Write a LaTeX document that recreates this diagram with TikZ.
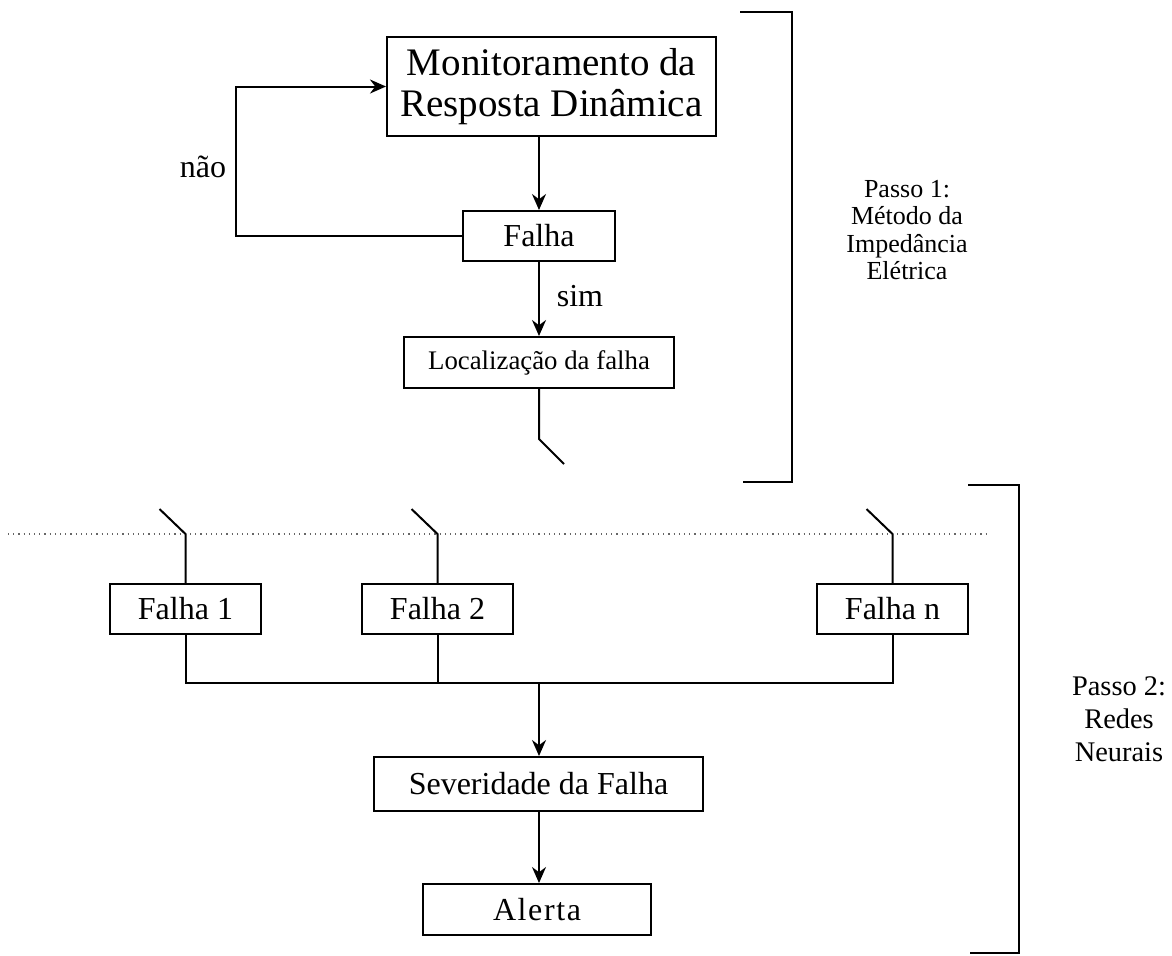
\documentclass[tikz,border=0pt]{standalone}
\usepackage{fontspec}
\setmainfont{Liberation Serif}
\usetikzlibrary{arrows.meta}
\begin{document}
\begin{tikzpicture}[x=0.5pt,y=-0.5pt,
  line width=1pt,
  box/.style={draw,inner sep=0pt,align=center,font=\fontsize{16}{18.5}\selectfont},
  lbl/.style={inner sep=0pt,align=center,font=\fontsize{16}{18.5}\selectfont},
  side/.style={inner sep=0pt,align=center,font=\fontsize{14.2}{16.5}\selectfont},
  arr/.style={-{Stealth[length=8pt,width=7pt]}},
  sepline/.style={dotted,line width=0.6pt,gray!80!black}]
\useasboundingbox (0,0) rectangle (1172,955);
% boxes
\node[box,minimum width=164.5pt,minimum height=49.5pt,font=\fontsize{19.5}{20.5}\selectfont] (mon) at (551.5,86.5) {Monitoramento da\\Resposta Dinâmica};
\node[box,minimum width=76pt,minimum height=25pt] (falha) at (539,236) {Falha};
\node[box,minimum width=135pt,minimum height=25.5pt,font=\fontsize{13.4}{15}\selectfont] (loc) at (539,362.5) {Localização da falha};
\node[box,minimum width=75.5pt,minimum height=25pt] (f1) at (185.5,609) {Falha 1};
\node[box,minimum width=75.5pt,minimum height=25pt] (f2) at (437.5,609) {Falha 2};
\node[box,minimum width=75.5pt,minimum height=25pt] (fn) at (892.5,609) {Falha n};
\node[box,minimum width=164.5pt,minimum height=27pt] (sev) at (538.5,784) {Severidade da Falha};
\node[box,minimum width=114pt,minimum height=25.5pt,font=\fontsize{16}{18.5}\selectfont\addfontfeature{LetterSpace=5}] (ale) at (537,909.5) {Alerta};
% labels
\node[lbl] (nao) at (203,167) {não};
\node[lbl] (sim) at (580,296) {sim};
\node[side,font=\fontsize{13}{13.6}\selectfont] (p1) at (907,230) {Passo 1:\\Método da\\Impedância\\Elétrica};
\node[side] (p2) at (1119,719) {Passo 2:\\Redes\\Neurais};
% coordinates
\coordinate (loopc) at (236,236);
\coordinate (sw0a) at (539,439);
\coordinate (sw0b) at (564,464);
\coordinate (s1a) at (185.5,534);
\coordinate (s1b) at (159.5,509);
\coordinate (s2a) at (437.5,534);
\coordinate (s2b) at (411.5,509);
\coordinate (sna) at (892.5,534);
\coordinate (snb) at (866.5,509);
\coordinate (bus1) at (185.5,683);
\coordinate (bus2) at (437.5,683);
\coordinate (busn) at (892.5,683);
\coordinate (busm) at (539,683);
\coordinate (dl) at (8,534);
\coordinate (dr) at (990,534);
\coordinate (b1a) at (740,12);
\coordinate (b1b) at (792,12);
\coordinate (b1c) at (792,482);
\coordinate (b1d) at (743,482);
\coordinate (b2a) at (968,485);
\coordinate (b2b) at (1019,485);
\coordinate (b2c) at (1019,953);
\coordinate (b2d) at (970,953);
% connectors
\draw[arr] (falha.north |- mon.south) -- (falha.north);
\draw[arr] (falha.west) -- (loopc) |- (mon.west);
\draw[arr] (falha.south) -- (loc.north);
\draw (loc.south) -- (sw0a) -- (sw0b);
\draw[sepline] (dl) -- (dr);
\draw (f1.north) -- (s1a) -- (s1b);
\draw (f2.north) -- (s2a) -- (s2b);
\draw (fn.north) -- (sna) -- (snb);
\draw (f1.south) -- (bus1) -- (busn) -- (fn.south);
\draw (f2.south) -- (bus2);
\draw[arr] (busm) -- (busm |- sev.north);
\draw[arr] (busm |- sev.south) -- (busm |- ale.north);
% brackets
\draw (b1a) -- (b1b) -- (b1c) -- (b1d);
\draw (b2a) -- (b2b) -- (b2c) -- (b2d);
\end{tikzpicture}
\end{document}
